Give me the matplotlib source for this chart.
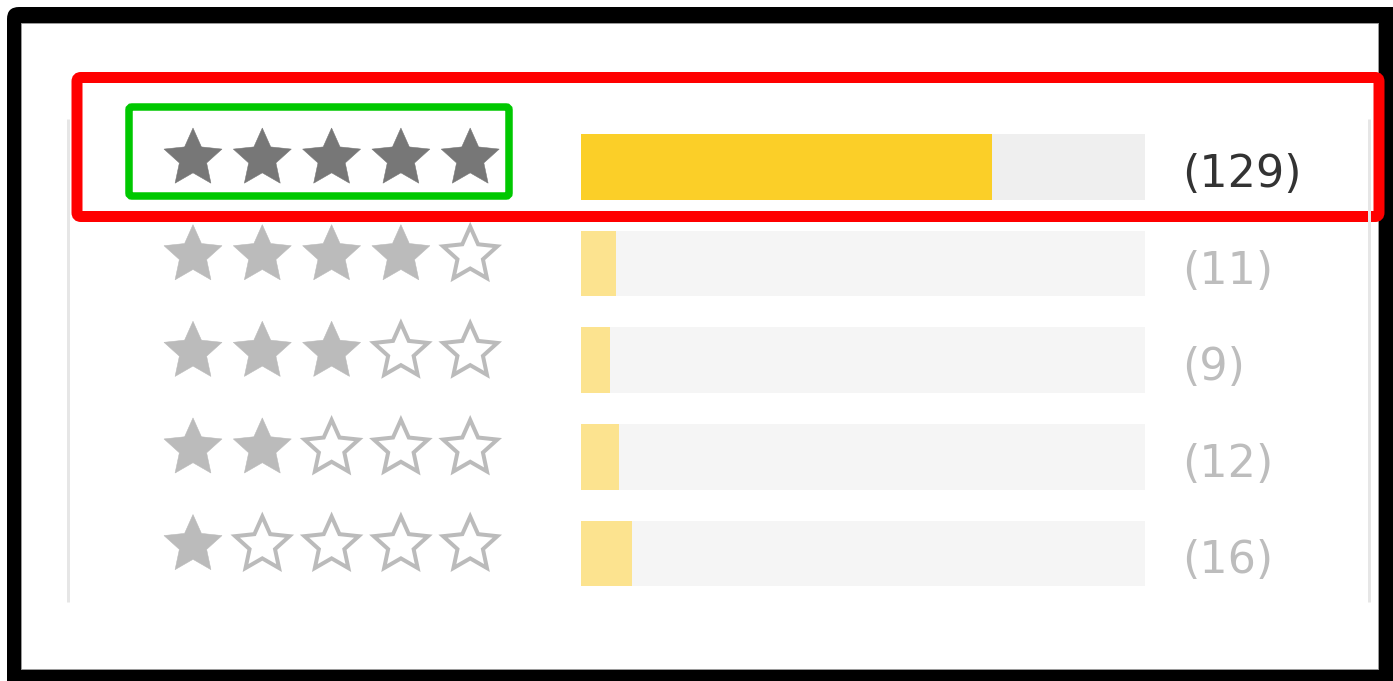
import numpy as np
import matplotlib
matplotlib.use("Agg")
import matplotlib.pyplot as plt
from matplotlib.patches import Polygon, FancyBboxPatch, Rectangle

# ---- data ----
ratings = [5, 4, 3, 2, 1]
counts = [129, 11, 9, 12, 16]
labels = ["(129)", "(11)", "(9)", "(12)", "(16)"]

# ---- styles ----
W, H = 1393, 681
BAR_MAIN = "#FBCF28"
BAR_LIGHT = "#FCE38F"
TRACK_MAIN = "#EFEFEF"
TRACK_LIGHT = "#F5F5F5"
STAR_DARK = "#777777"
STAR_LIGHT = "#BBBBBB"
TEXT_DARK = "#333333"
TEXT_LIGHT = "#BDBDBD"

fig = plt.figure(figsize=(W / 100, H / 100), dpi=100)
px = 72 / 100  # points per pixel

# background frame axes
bg = fig.add_axes([0, 0, 1, 1], zorder=0)
bg.set_xlim(0, W); bg.set_ylim(H, 0); bg.axis("off")
bg.add_patch(FancyBboxPatch((7, 7), 1420, 700, boxstyle="round,pad=0,rounding_size=12",
                            facecolor="black", edgecolor="none"))
bg.add_patch(Rectangle((21, 23), 1378 - 21, 669 - 23, facecolor="white",
                       edgecolor="#9a9a9a", linewidth=1 * px))

# bar axes layout (row band)
row_top, row_bot = 118.7, 601.8
bar_left, bar_right = 581, 1145
ax = fig.add_axes([bar_left / W, 1 - row_bot / H, (bar_right - bar_left) / W, (row_bot - row_top) / H],
                  zorder=1)
total = sum(counts)
n = len(counts)
ypos = np.arange(n)
track_colors = [TRACK_MAIN] + [TRACK_LIGHT] * (n - 1)
bar_colors = [BAR_MAIN] + [BAR_LIGHT] * (n - 1)
ax.barh(ypos, [total] * n, height=0.68, color=track_colors, linewidth=0)
ax.barh(ypos, counts, height=0.68, color=bar_colors, linewidth=0)
ax.set_xlim(0, total)
ax.set_ylim(n - 0.5, -0.5)
ax.axis("off")
ax.patch.set_alpha(0)

# overlay axes in pixel coords
ov = fig.add_axes([0, 0, 1, 1], zorder=2)
ov.set_xlim(0, W); ov.set_ylim(H, 0); ov.axis("off")
ov.patch.set_alpha(0)

row_h = (row_bot - row_top) / n
row_centers = [row_top + row_h * (i + 0.5) for i in range(n)]

# container side lines
for x in (68, 1369):
    ov.plot([x, x], [row_top, row_bot], color="#e6e6e6", lw=3 * px, solid_capstyle="butt")


def star_pts(cx, cy, R, ratio=0.47):
    pts = []
    for k in range(10):
        r = R if k % 2 == 0 else R * ratio
        a = np.pi / 2 + k * np.pi / 5
        pts.append((cx + r * np.cos(a), cy - r * np.sin(a)))
    return pts


star_x0, star_dx, R = 193, 69.3, 30.5
for i, (rt, yc) in enumerate(zip(ratings, row_centers)):
    sy = yc - 8.5
    for s in range(5):
        sx = star_x0 + s * star_dx
        if s < rt:
            col = STAR_DARK if i == 0 else STAR_LIGHT
            ov.add_patch(Polygon(star_pts(sx, sy, R), closed=True, facecolor=col, edgecolor=col,
                                 linewidth=0.5 * px))
        else:
            ov.add_patch(Polygon(star_pts(sx, sy, R - 2, 0.47), closed=True, facecolor="white",
                                 edgecolor=STAR_LIGHT, linewidth=4 * px, joinstyle="miter"))
    ov.text(1182, yc + 7.5, labels[i], fontsize=32, family="DejaVu Sans",
            color=TEXT_DARK if i == 0 else TEXT_LIGHT, ha="left", va="center")

# highlight boxes
ov.add_patch(FancyBboxPatch((77, 77.5), 1379 - 77, 216.5 - 77.5, boxstyle="round,pad=0,rounding_size=4",
                            facecolor="none", edgecolor="#FF0000", linewidth=11 * px))
ov.add_patch(FancyBboxPatch((129, 107), 509 - 129, 196 - 107, boxstyle="round,pad=0,rounding_size=3",
                            facecolor="none", edgecolor="#00C800", linewidth=7.5 * px))

fig.savefig("out.png", dpi=100)
